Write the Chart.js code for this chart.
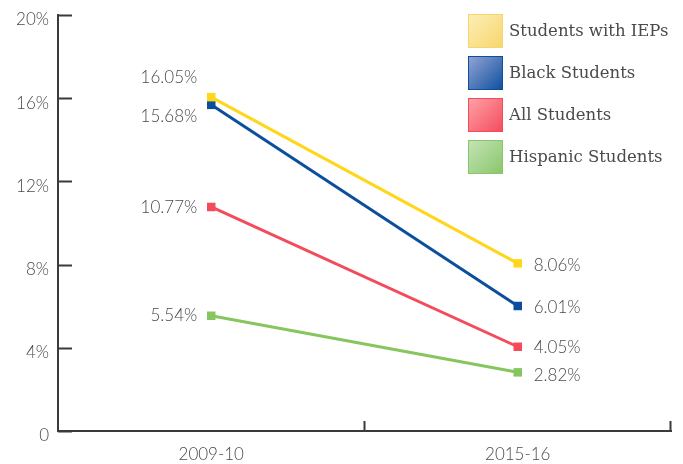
<!DOCTYPE html>
<html>
<head>
<meta charset="utf-8">
<script src="https://cdn.jsdelivr.net/npm/chart.js@4"></script>
<style>
    html, body { margin: 0; padding: 0; background: #fff; }
    #wrap { width: 683px; height: 464px; }
</style>
</head>
<body>
<div id="wrap"><canvas id="chart"></canvas></div>
<script>
const years = ['2009-10', '2015-16'];

const seriesNames = ['Students with IEPs', 'Black Students', 'All Students', 'Hispanic Students'];
const iepValues = [16.05, 8.06];
const blackValues = [15.68, 6.01];
const allValues = [10.77, 4.05];
const hispanicValues = [5.54, 2.82];

const yTicks = [0, 4, 8, 12, 16, 20];

const lineColors = ['#ffd619', '#0b4f9c', '#f44b5c', '#87c65f'];
// legend swatches: light corner -> dark corner
const swatchColors = [
    ['#fcefb8', '#f7d56c'],
    ['#95a5d6', '#0d4f9e'],
    ['#ffa3a8', '#f44b5c'],
    ['#c6e4b8', '#88c66a'],
];
// little vertical nudges for value labels, [left, right] per series
const labelNudge = [[-20, 2], [12, 2], [1, 1], [0, 3]];

const textColor = '#4a4a4a';
const axisColor = '#3a3a3a';
const tickFont = { family: 'Lato', size: 17, weight: '300' };

const valueLabels = {
    id: 'valueLabels',
    afterDatasetsDraw(chart) {
        const ctx = chart.ctx;
        ctx.save();
        ctx.font = '300 17px Lato';
        ctx.fillStyle = textColor;
        ctx.textBaseline = 'middle';
        chart.data.datasets.forEach((ds, i) => {
            chart.getDatasetMeta(i).data.forEach((pt, j) => {
                const txt = ds.data[j].toFixed(2) + '%';
                if (j === 0) {
                    ctx.textAlign = 'right';
                    ctx.fillText(txt, pt.x - 14, pt.y + labelNudge[i][0]);
                } else {
                    ctx.textAlign = 'left';
                    ctx.fillText(txt, pt.x + 16, pt.y + labelNudge[i][1]);
                }
            });
        });
        ctx.restore();
    },
};

const axisTicks = {
    id: 'axisTicks',
    afterDraw(chart) {
        const ctx = chart.ctx;
        const area = chart.chartArea;
        const y = chart.scales.y;
        const x = chart.scales.x;
        ctx.save();
        ctx.strokeStyle = axisColor;
        ctx.lineWidth = 2;
        ctx.beginPath();
        // y axis ticks pointing inward
        yTicks.forEach((v) => {
            const py = Math.round(y.getPixelForValue(v)) + 0.5;
            ctx.moveTo(area.left, py);
            ctx.lineTo(area.left + 14, py);
        });
        // x axis ticks at category edges pointing up
        const half = (x.getPixelForValue(1) - x.getPixelForValue(0)) / 2;
        [x.getPixelForValue(1) - half, area.right].forEach((px) => {
            ctx.moveTo(Math.round(px) - 0.5, area.bottom);
            ctx.lineTo(Math.round(px) - 0.5, area.bottom - 10);
        });
        ctx.stroke();
        ctx.restore();
    },
};

const boxLegend = {
    id: 'boxLegend',
    afterDraw(chart) {
        const ctx = chart.ctx;
        const left = chart.chartArea.right - 203;
        ctx.save();
        ctx.font = '16.5px "DejaVu Serif"';
        ctx.textBaseline = 'middle';
        ctx.textAlign = 'left';
        seriesNames.forEach((name, i) => {
            const top = 14 + i * 42;
            const g = ctx.createLinearGradient(left, top, left + 35, top + 34);
            g.addColorStop(0, swatchColors[i][0]);
            g.addColorStop(1, swatchColors[i][1]);
            ctx.fillStyle = g;
            ctx.fillRect(left, top, 35, 34);
            ctx.strokeStyle = swatchColors[i][1];
            ctx.lineWidth = 1;
            ctx.strokeRect(left + 0.5, top + 0.5, 34, 33);
            ctx.fillStyle = textColor;
            ctx.fillText(name, left + 41, top + 18);
        });
        ctx.restore();
    },
};

const allSeries = [iepValues, blackValues, allValues, hispanicValues];

new Chart(document.getElementById('chart'), {
    type: 'line',
    data: {
        labels: years,
        datasets: allSeries.map((values, i) => ({
            label: seriesNames[i],
            data: values,
            borderColor: lineColors[i],
            backgroundColor: lineColors[i],
            borderWidth: 3,
            pointStyle: 'rect',
            pointRadius: 6,
            pointBorderWidth: 0,
            tension: 0,
        })),
    },
    options: {
        responsive: true,
        maintainAspectRatio: false,
        animation: false,
        layout: { padding: { top: 15, right: 12, left: 0, bottom: 0 } },
        plugins: {
            legend: { display: false },
            tooltip: { enabled: false },
        },
        scales: {
            x: {
                offset: true,
                grid: { display: false, drawTicks: false },
                border: { color: axisColor, width: 2 },
                ticks: {
                    color: textColor,
                    font: tickFont,
                    padding: 13,
                },
                afterFit: (s) => { s.height = 33; },
            },
            y: {
                min: 0,
                max: 20,
                afterBuildTicks: (s) => { s.ticks = yTicks.map((v) => ({ value: v })); },
                grid: { display: false, drawTicks: false },
                border: { color: axisColor, width: 2 },
                ticks: {
                    color: textColor,
                    font: { ...tickFont, lineHeight: 0.6 },
                    padding: 9,
                    labelOffset: 5,
                    callback: (v) => (v === 0 ? '0' : v + '%'),
                },
                afterFit: (s) => { s.width = 58; },
            },
        },
    },
    plugins: [valueLabels, axisTicks, boxLegend],
});
</script>
</body>
</html>
